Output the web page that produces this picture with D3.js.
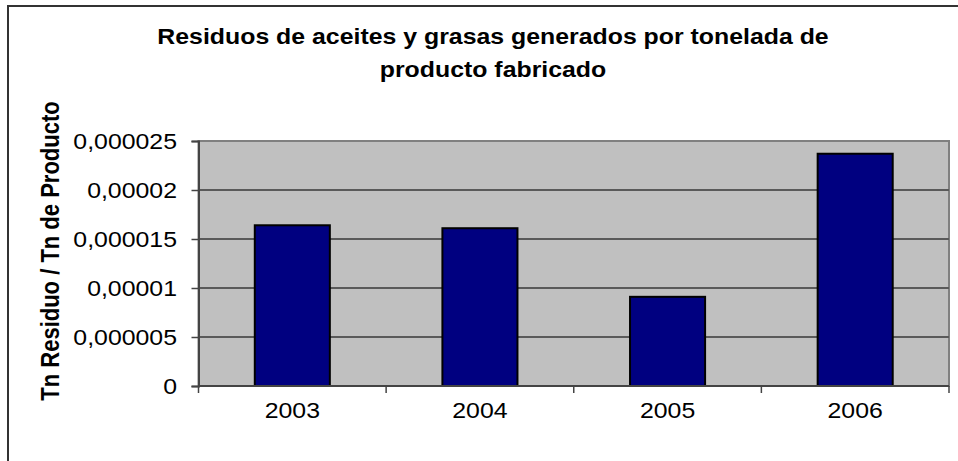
<!DOCTYPE html>
<html>
<head>
<meta charset="utf-8">
<script src="https://cdn.jsdelivr.net/npm/d3@7"></script>
<style>
  body { margin: 0; background: #fff; }
  svg { display: block; font-family: "Liberation Sans", Arial, sans-serif; }
</style>
</head>
<body>
<div id="chart"></div>
<script>
const years = ["2003", "2004", "2005", "2006"];
const values = [0.0000164, 0.0000161, 0.0000091, 0.0000237];
const yTicks = [0, 0.000005, 0.00001, 0.000015, 0.00002, 0.000025];
const yTickLabels = ["0", "0,000005", "0,00001", "0,000015", "0,00002", "0,000025"];

const width = 958;
const height = 461;
const margin = { top: 141, right: 9, bottom: 75, left: 198.5 };
const stretch = 1.13; // the original text is drawn a bit wider than it is tall

const svg = d3.select("#chart")
  .append("svg")
  .attr("width", width)
  .attr("height", height);

// chart border
svg.append("rect")
  .attr("x", 8).attr("y", 6)
  .attr("width", width + 10).attr("height", height + 10)
  .attr("fill", "none")
  .attr("stroke", "#333")
  .attr("stroke-width", 2);

const x = d3.scaleBand()
  .domain(years)
  .range([margin.left, width - margin.right])
  .paddingInner(0.6)
  .paddingOuter(0.3);

const xb = d3.scaleBand()
  .domain(years)
  .range([margin.left, width - margin.right]);

const y = d3.scaleLinear()
  .domain([0, 0.000025])
  .range([height - margin.bottom, margin.top]);

// plot area
svg.append("rect")
  .attr("x", margin.left)
  .attr("y", margin.top)
  .attr("width", width - margin.right - margin.left)
  .attr("height", y(0) - margin.top)
  .attr("fill", "#c0c0c0")
  .attr("stroke", "#808080")
  .attr("stroke-width", 2);

// gridlines
svg.append("g")
  .selectAll("line")
  .data(yTicks.slice(1, -1))
  .join("line")
  .attr("x1", margin.left)
  .attr("x2", width - margin.right)
  .attr("y1", d => y(d))
  .attr("y2", d => y(d))
  .attr("stroke", "#5a5a5a")
  .attr("stroke-width", 2);

// bars
svg.append("g")
  .selectAll("rect")
  .data(values)
  .join("rect")
  .attr("x", (d, i) => x(years[i]))
  .attr("y", d => y(d))
  .attr("width", x.bandwidth())
  .attr("height", d => y(0) - y(d))
  .attr("fill", "#000080")
  .attr("stroke", "#000")
  .attr("stroke-width", 2);

// y axis
const yAxis = svg.append("g")
  .attr("transform", `translate(${margin.left},0)`)
  .call(d3.axisLeft(y)
    .tickValues(yTicks)
    .tickFormat("")
    .tickSize(7));
yAxis.select(".domain").attr("stroke", "#444").attr("stroke-width", 2);
yAxis.selectAll(".tick line").attr("stroke", "#444").attr("stroke-width", 1.5);

svg.append("g")
  .selectAll("text")
  .data(yTicks)
  .join("text")
  .attr("transform", d => `translate(177,${y(d)}) scale(${stretch},1)`)
  .attr("dy", "0.35em")
  .attr("text-anchor", "end")
  .attr("font-size", 22)
  .text((d, i) => yTickLabels[i]);

// x axis
const xAxisG = svg.append("g")
  .attr("transform", `translate(0,${y(0)})`);
xAxisG.append("line")
  .attr("x1", margin.left).attr("x2", width - margin.right)
  .attr("stroke", "#444").attr("stroke-width", 2);
xAxisG.selectAll("line.tick")
  .data(years.concat(["end"]))
  .join("line")
  .attr("class", "tick")
  .attr("x1", (d, i) => i < years.length ? xb(d) : width - margin.right)
  .attr("x2", (d, i) => i < years.length ? xb(d) : width - margin.right)
  .attr("y1", 0).attr("y2", 7)
  .attr("stroke", "#444").attr("stroke-width", 1.5);
xAxisG.selectAll("text")
  .data(years)
  .join("text")
  .attr("transform", d => `translate(${xb(d) + xb.bandwidth() / 2},32) scale(${stretch},1)`)
  .attr("text-anchor", "middle")
  .attr("font-size", 22)
  .text(d => d);

// title
const title = svg.append("text")
  .attr("transform", `translate(493,0) scale(${stretch},1)`)
  .attr("text-anchor", "middle")
  .attr("font-size", 22)
  .attr("font-weight", "bold");
title.append("tspan").attr("x", 0).attr("y", 44)
  .text("Residuos de aceites y grasas generados por tonelada de");
title.append("tspan").attr("x", 0).attr("y", 77)
  .text("producto fabricado");

// y axis title
svg.append("text")
  .attr("transform", `translate(59,251) scale(${stretch},1) rotate(-90)`)
  .attr("text-anchor", "middle")
  .attr("font-size", 22)
  .attr("font-weight", "bold")
  .text("Tn Residuo / Tn de Producto");
</script>
</body>
</html>
